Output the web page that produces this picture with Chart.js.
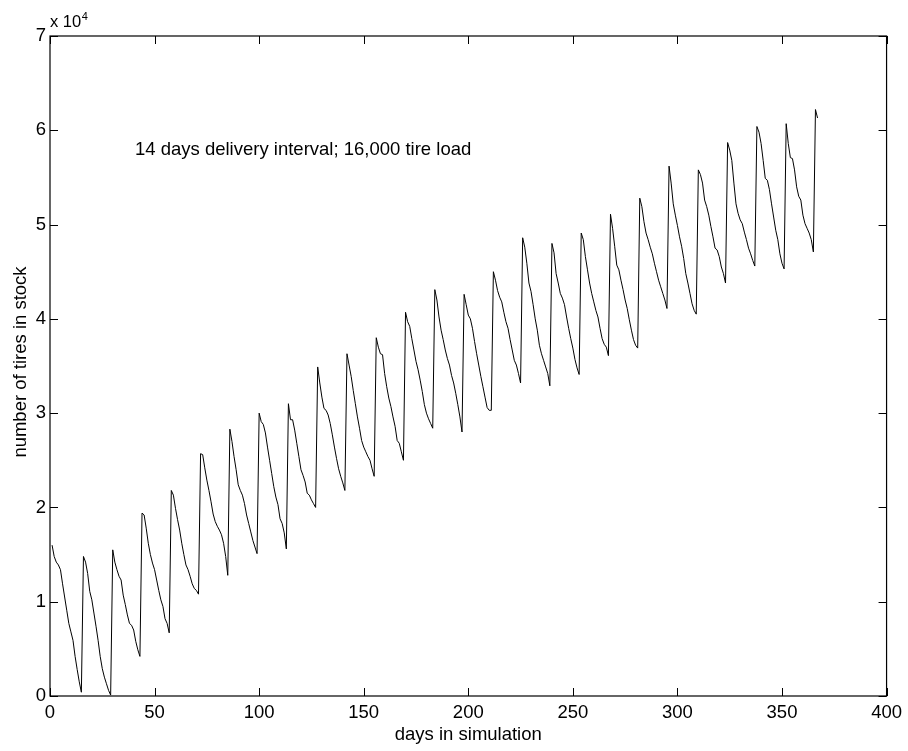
<!DOCTYPE html>
<html>
<head>
<meta charset="utf-8">
<script src="https://cdn.jsdelivr.net/npm/chart.js@4.4.1/dist/chart.umd.min.js"></script>
<style>
  html, body { margin: 0; padding: 0; background: #fff; }
  #c { display: block; }
</style>
</head>
<body>
<canvas id="c" width="908" height="751"></canvas>
<script>
// ---- data (number of tires in stock, day 1 .. day 367) ----
const stockLevels = [
  // days 1-15
  16000, 14800, 14200, 13900, 13400, 11900, 10500, 9100, 7700, 6800, 5900, 4200, 2800, 1500, 400,
  // days 16-29
  14800, 14200, 13000, 11100, 10200, 8800, 7400, 5900, 4200, 2900, 2000, 1300, 600, 100,
  // days 30-43
  15500, 14200, 13400, 12700, 12300, 10700, 9700, 8600, 7700, 7500, 7000, 5800, 4900, 4200,
  // days 44-57
  19400, 19200, 17800, 16200, 15000, 14100, 13400, 12300, 11200, 10200, 9500, 8200, 7700, 6700,
  // days 58-71
  21800, 21300, 19900, 18700, 17600, 16200, 15000, 13900, 13400, 12700, 11900, 11400, 11200, 10800,
  // days 72-85
  25700, 25600, 24200, 22900, 21800, 20600, 19300, 18500, 18000, 17600, 17100, 16200, 14800, 12800,
  // days 86-99
  28300, 27000, 25400, 24000, 22400, 21800, 21300, 20400, 19200, 18300, 17400, 16500, 15800, 15100,
  // days 100-113
  30000, 29100, 28800, 27900, 26400, 25000, 23600, 22200, 21100, 20300, 18800, 18300, 17300, 15600,
  // days 114-127
  31000, 29300, 29300, 28200, 26800, 25400, 24000, 23400, 22700, 21500, 21300, 20800, 20400, 20000,
  // days 128-141
  34900, 33200, 31700, 30500, 30300, 29800, 28900, 27700, 26400, 25200, 24100, 23300, 22600, 21800,
  // days 142-155
  36300, 35100, 33900, 32400, 31000, 29600, 28400, 27100, 26400, 25900, 25400, 25000, 24100, 23300,
  // days 156-169
  38000, 37000, 36300, 36200, 34200, 32800, 31600, 30700, 29600, 28600, 27100, 26800, 25900, 25000,
  // days 170-183
  40700, 39700, 39200, 37900, 36700, 35500, 34600, 33500, 32300, 30900, 30000, 29400, 28900, 28400,
  // days 184-197
  43100, 42000, 40200, 38800, 37800, 36700, 35800, 35100, 34000, 33200, 32100, 30900, 29600, 28000,
  // days 198-211
  42600, 41500, 40400, 40000, 39000, 37600, 36300, 35100, 33900, 32800, 31700, 30600, 30300, 30300,
  // days 212-225
  45000, 44100, 43000, 42300, 41800, 40700, 39700, 39000, 37800, 36700, 35600, 35100, 34200, 33200,
  // days 226-239
  48600, 47600, 45900, 43800, 42900, 41500, 40000, 38800, 37200, 36300, 35600, 34900, 34200, 32900,
  // days 240-253
  48000, 47000, 44800, 43800, 42700, 42200, 41500, 40200, 39000, 37900, 36900, 35700, 34800, 34100,
  // days 254-267
  49100, 48400, 46600, 45200, 43800, 42700, 41800, 40900, 40200, 39000, 37900, 37300, 37000, 36100,
  // days 268-281
  51100, 49600, 47700, 45700, 45200, 44100, 43100, 42000, 41100, 39900, 38800, 37800, 37200, 36900,
  // days 282-295
  52800, 51900, 50300, 49100, 48400, 47600, 46900, 45900, 45000, 44100, 43400, 42700, 42000, 41100,
  // days 296-309
  56200, 54400, 52200, 51000, 49900, 48700, 47700, 46400, 44800, 43800, 42700, 41600, 40900, 40500,
  // days 310-323
  55800, 55300, 54400, 52600, 51900, 51000, 49800, 48700, 47500, 47300, 46600, 45500, 44800, 43800,
  // days 324-337
  58700, 57900, 56800, 54400, 52200, 51200, 50500, 50100, 49200, 48400, 47500, 46900, 46200, 45600,
  // days 338-351
  60400, 59800, 58600, 56800, 54900, 54700, 53700, 52200, 50800, 49400, 48400, 46900, 45900, 45300,
  // days 352-365
  60700, 58600, 57100, 57000, 55800, 54000, 53000, 52600, 51000, 50100, 49600, 49100, 48400, 47100,
  // days 366-367
  62200, 61300
];
const days = stockLevels.map((_, i) => i + 1);

const xTickValues = [0, 50, 100, 150, 200, 250, 300, 350, 400];
const yTickValues = [0, 10000, 20000, 30000, 40000, 50000, 60000, 70000];
const yTickLabels = ['0', '1', '2', '3', '4', '5', '6', '7'];

const xTitle = 'days in simulation';
const yTitle = 'number of tires in stock';
const noteText = '14 days delivery interval; 16,000 tire load';
const exponentBase = 'x 10';
const exponentPower = '4';

// ---- styling ----
const FONT = '"Liberation Sans", Arial, Helvetica, sans-serif';
const FS = 18.5;

const framePlugin = {
  id: 'framePlugin',
  afterDraw(chart) {
    const { ctx, chartArea: a, scales } = chart;
    const x = scales.x, y = scales.y;
    ctx.save();
    ctx.strokeStyle = '#000';
    ctx.lineWidth = 1.2;
    ctx.strokeRect(a.left, a.top, a.right - a.left, a.bottom - a.top);
    ctx.lineWidth = 1;
    ctx.beginPath();
    const TL = 8;
    xTickValues.forEach(v => {
      const px = Math.round(x.getPixelForValue(v)) + 0.5;
      ctx.moveTo(px, a.bottom); ctx.lineTo(px, a.bottom - TL);
      ctx.moveTo(px, a.top); ctx.lineTo(px, a.top + TL);
    });
    yTickValues.forEach(v => {
      const py = Math.round(y.getPixelForValue(v)) + 0.5;
      ctx.moveTo(a.left, py); ctx.lineTo(a.left + TL, py);
      ctx.moveTo(a.right, py); ctx.lineTo(a.right - TL, py);
    });
    ctx.stroke();

    ctx.fillStyle = '#000';
    // annotation
    ctx.font = FS + 'px ' + FONT;
    ctx.textAlign = 'left';
    ctx.textBaseline = 'alphabetic';
    ctx.fillText(noteText, 135, 155);

    // x title
    ctx.textAlign = 'center';
    ctx.fillText(xTitle, (a.left + a.right) / 2, 740);

    // y title
    ctx.save();
    ctx.translate(26, (a.top + a.bottom) / 2 - 4);
    ctx.rotate(-Math.PI / 2);
    ctx.textAlign = 'center';
    ctx.textBaseline = 'alphabetic';
    ctx.fillText(yTitle, 0, 0);
    ctx.restore();

    // exponent label
    ctx.textAlign = 'left';
    ctx.font = '16.5px ' + FONT;
    ctx.fillText(exponentBase, 50, 27);
    const w = ctx.measureText(exponentBase).width;
    ctx.font = '11px ' + FONT;
    ctx.fillText(exponentPower, 50 + w + 0.5, 20);
    ctx.restore();
  }
};

new Chart(document.getElementById('c'), {
  type: 'line',
  data: {
    datasets: [{
      data: days.map((d, i) => ({ x: d, y: stockLevels[i] })),
      borderColor: '#000',
      borderWidth: 1,
      pointRadius: 0,
      tension: 0,
      fill: false
    }]
  },
  options: {
    responsive: false,
    animation: false,
    devicePixelRatio: 1,
    layout: { padding: { left: 0, right: 21, top: 36, bottom: 0 } },
    plugins: { legend: { display: false }, tooltip: { enabled: false } },
    scales: {
      x: {
        type: 'linear',
        min: 0, max: 400,
        afterBuildTicks: s => { s.ticks = xTickValues.map(v => ({ value: v })); },
        afterFit: s => { s.height = 55; },
        grid: { display: false, drawTicks: false },
        border: { display: false },
        ticks: {
          color: '#000',
          font: { family: FONT, size: FS },
          padding: 6,
          maxRotation: 0,
          autoSkip: false,
          callback: v => String(v)
        }
      },
      y: {
        type: 'linear',
        min: 0, max: 70000,
        afterBuildTicks: s => { s.ticks = yTickValues.map(v => ({ value: v })); },
        afterFit: s => { s.width = 50; },
        grid: { display: false, drawTicks: false },
        border: { display: false },
        ticks: {
          color: '#000',
          font: { family: FONT, size: FS },
          padding: 4,
          autoSkip: false,
          callback: v => yTickLabels[yTickValues.indexOf(v)]
        }
      }
    }
  },
  plugins: [framePlugin]
});
</script>
</body>
</html>
